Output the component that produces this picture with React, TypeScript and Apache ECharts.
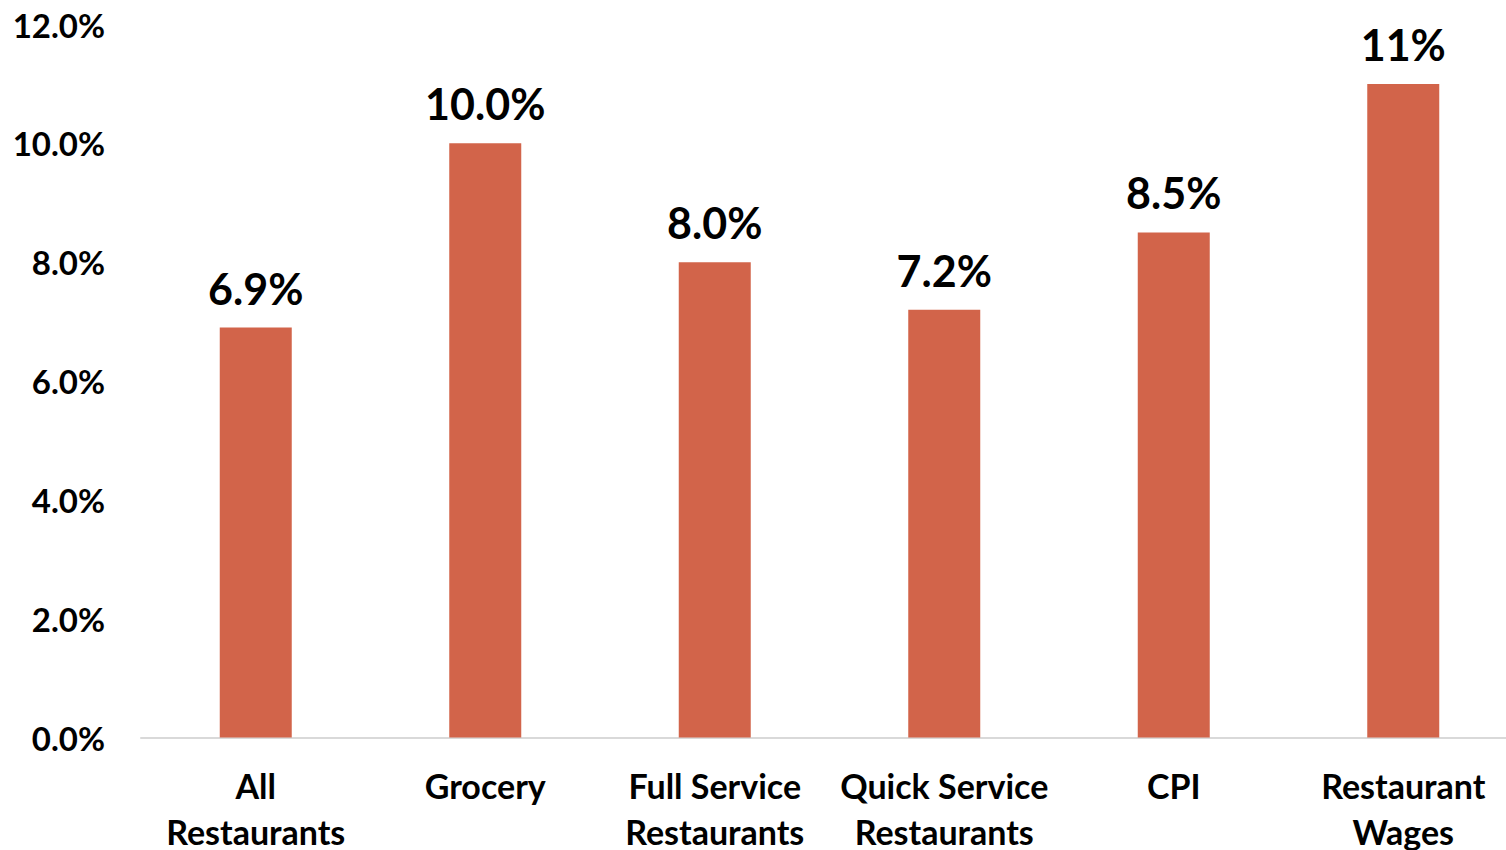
import React, { useEffect, useRef } from "react";
import * as echarts from "echarts";

const categories = ["All\nRestaurants", "Grocery", "Full Service\nRestaurants", "Quick Service\nRestaurants", "CPI", "Restaurant\nWages"];
const values = [6.9, 10.0, 8.0, 7.2, 8.5, 11];
const valueLabels = ["6.9%", "10.0%", "8.0%", "7.2%", "8.5%", "11%"];
const yTicks = { min: 0, max: 12, interval: 2 };

export default function App() {
  const ref = useRef<HTMLDivElement>(null);
  useEffect(() => {
    if (!ref.current) return;
    const chart = echarts.init(ref.current, undefined, { renderer: "svg" });
    chart.setOption({
      animation: false,
      textStyle: { fontFamily: "Lato" },
      grid: { left: 141, width: 1377, top: 24.5, height: 713, containLabel: false, outerBoundsMode: "none" },
      xAxis: {
        type: "category",
        data: categories,
        axisLine: { lineStyle: { color: "#d9d9d9", width: 2 } },
        axisTick: { show: false },
        axisLabel: {
          color: "#000",
          fontWeight: "bold",
          fontSize: 34,
          lineHeight: 46,
          margin: 25,
          interval: 0,
        },
      },
      yAxis: {
        type: "value",
        min: yTicks.min,
        max: yTicks.max,
        interval: yTicks.interval,
        splitLine: { show: false },
        axisLine: { show: false },
        axisTick: { show: false },
        axisLabel: {
          color: "#000",
          fontWeight: "bold",
          fontSize: 33,
          margin: 36,
          formatter: (v: number) => v.toFixed(1) + "%",
        },
      },
      series: [
        {
          type: "bar",
          data: values,
          barWidth: 72,
          itemStyle: { color: "#D2644A" },
          label: {
            show: true,
            position: "top",
            distance: 18,
            color: "#000",
            fontWeight: "bold",
            fontSize: 43,
            formatter: (p: any) => valueLabels[p.dataIndex],
          },
        },
      ],
    });
    return () => chart.dispose();
  }, []);
  return <div ref={ref} style={{ position: "fixed", left: 0, top: 0, width: 1506, height: 850, background: "#fff" }} />;
}
